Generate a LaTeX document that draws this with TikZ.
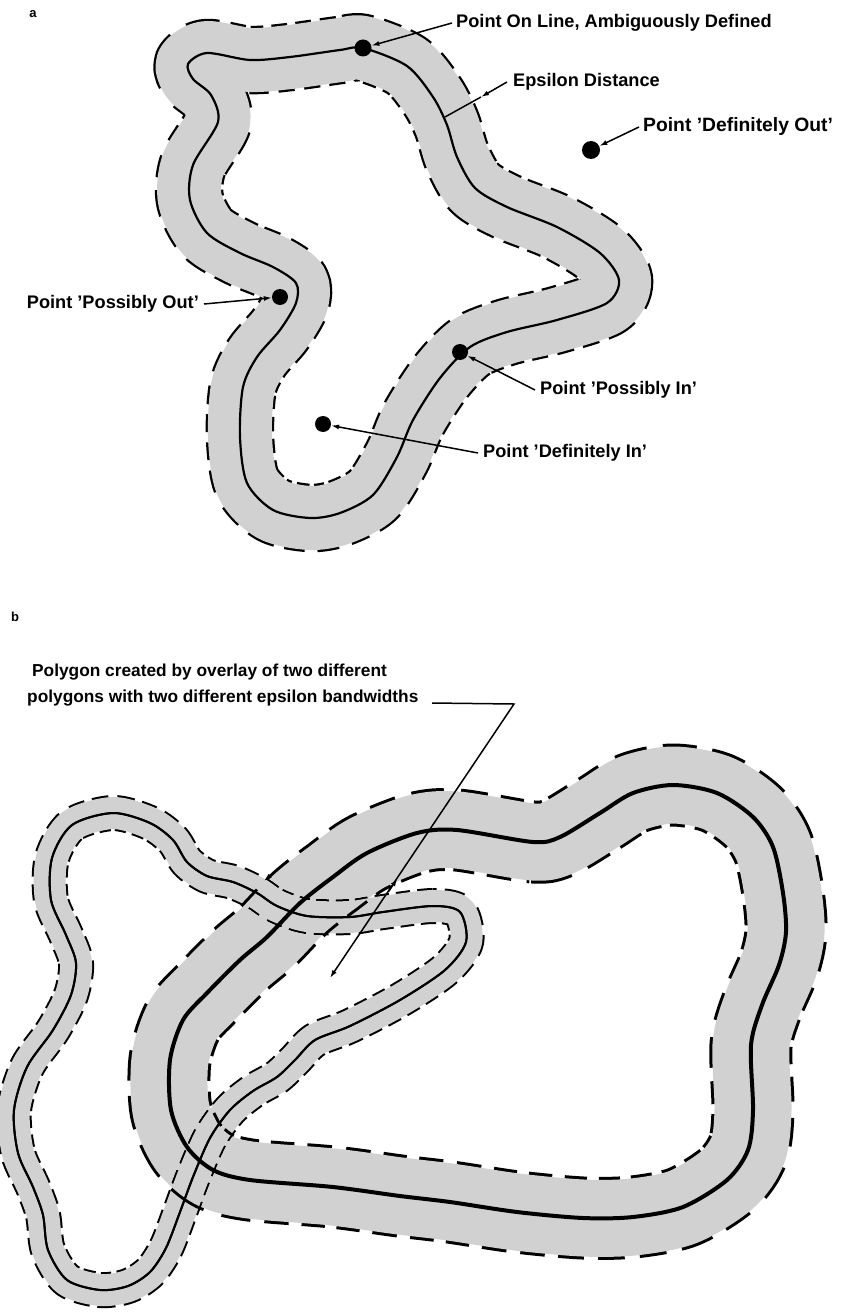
\documentclass[tikz,border=0pt]{standalone}
\usepackage{fontspec}
\setmainfont{Liberation Sans}
\usetikzlibrary{arrows.meta}
\definecolor{bandgray}{gray}{0.82}
\begin{document}
\begin{tikzpicture}[x=1pt,y=-1pt,
  lbl/.style={font=\bfseries\fontsize{18.2}{21}\selectfont, inner sep=0pt},
  lblb/.style={font=\bfseries\fontsize{17.3}{20}\selectfont, inner sep=0pt},
  panel/.style={font=\bfseries\fontsize{13}{15}\selectfont, inner sep=0pt},
  ptdot/.style={circle,fill=black,inner sep=0pt,minimum size=16pt},
  lead/.style={line width=1.5pt},
  tipped/.style={-{Latex[length=8pt,width=5pt]}},
  ctr/.style={line join=round},
]
\fill[white] (0,0) rectangle (841,1313);
\useasboundingbox (0,0) rectangle (841,1313);
\clip (0,0) rectangle (841,1313);

% ---------- paths ----------
\path[save path=\pa] plot[smooth cycle] coordinates {(207,53) (250,60) (290,57) (340,50) (363,48) (407,66) (433,97) (447,125) (457,157) (475,188) (507,207) (557,227) (600,253) (619,280) (607,303) (557,320) (507,332) (470,347) (440,378) (413,420) (397,457) (373,495) (340,513) (310,518) (273,510) (247,483) (240,437) (243,387) (257,357) (280,330) (296,303) (296,283) (273,267) (240,253) (207,233) (190,200) (193,165) (218,122) (211,95) (193,79) (188,64)};

\path[save path=\pA] plot[smooth cycle] coordinates {(460,912) (433,906) (383,912) (350,917) (307,916) (277,906) (257,893) (233,882) (207,876) (187,862) (173,840) (150,823) (113,813) (72,825) (52,858) (51,900) (66,935) (76,963) (71,995) (53,1030) (27,1067) (14,1110) (18,1153) (33,1187) (43,1215) (48,1250) (67,1280) (100,1290) (128,1286) (150,1272) (166,1248) (180,1212) (193,1177) (210,1138) (230,1110) (253,1091) (277,1077) (295,1060) (315,1040) (350,1026) (400,1000) (445,970) (466,942)};

\path[save path=\pB] plot[smooth cycle] coordinates {(457,830) (533,842) (560,837) (600,813) (633,793) (673,785) (717,793) (753,817) (773,847) (783,893) (786,932) (779,965) (762,1005) (751,1045) (753,1110) (748,1150) (727,1180) (683,1207) (633,1217) (583,1218) (517,1212) (450,1202) (400,1196) (333,1187) (250,1180) (213,1170) (187,1147) (171,1110) (170,1060) (183,1020) (207,993) (240,960) (267,937) (300,903) (333,877) (367,853) (417,833)};

% ---------- panel a ----------
\node[panel] (la) at (33,14) {a};
\draw[use path=\pa, line width=68.5pt, dash pattern=on 16pt off 9pt, line join=round];
\draw[use path=\pa, line width=64pt, bandgray, line join=round];
\draw[use path=\pa, line width=2.2pt, ctr];

\node[ptdot,minimum size=17pt] (dOn) at (363,48) {};
\node[ptdot,minimum size=18pt] (dOut) at (591,150) {};
\node[ptdot] (dPOut) at (280,297) {};
\node[ptdot] (dPIn) at (460,352) {};
\node[ptdot] (dIn) at (323,424) {};

\node[lbl,anchor=west] (tOn) at (456,23) {Point On Line, Ambiguously Defined};
\node[lbl,anchor=west] (tEps) at (513,82) {Epsilon Distance};
\node[lbl,anchor=west,font=\bfseries\fontsize{19.3}{22}\selectfont] (tOut) at (643,127) {Point ’Definitely Out’};
\node[lbl,anchor=east] (tPOut) at (199,304) {Point ’Possibly Out’};
\node[lbl,anchor=west] (tPIn) at (540,390) {Point ’Possibly In’};
\node[lbl,anchor=west] (tIn) at (483,453) {Point ’Definitely In’};

\coordinate (eEdge) at (481,97);
\coordinate (eCtr) at (445,117);
\draw[lead,tipped] ([xshift=-4pt]tOn.west) -- (dOn);
\draw[lead,tipped] ([xshift=-6pt]tEps.west) -- (eEdge);
\draw[lead] (eEdge) -- (eCtr);
\draw[lead,tipped] ([xshift=-4pt]tOut.west) -- (dOut);
\draw[lead,tipped] ([xshift=5pt]tPOut.east) -- (dPOut);
\draw[lead,tipped] ([xshift=-5pt]tPIn.west) -- (dPIn);
\draw[lead,tipped] ([xshift=-5pt]tIn.west) -- (dIn);

% ---------- panel b ----------
\node[panel] (lb) at (15,617) {b};

\begin{scope}[blend mode=darken]
  \begin{scope}[transparency group]
    \draw[use path=\pA, line width=36pt, dash pattern=on 14pt off 7pt, line join=round];
    \draw[use path=\pA, line width=32pt, bandgray, line join=round];
  \end{scope}
\end{scope}
\draw[use path=\pA, line width=2pt, ctr];

\begin{scope}[blend mode=darken]
  \begin{scope}[transparency group]
    \draw[use path=\pB, line width=83pt, dash pattern=on 24pt off 13pt, line join=round];
    \draw[use path=\pB, line width=77pt, bandgray, line join=round];
  \end{scope}
\end{scope}
\draw[use path=\pA, line width=2pt, ctr];
\draw[use path=\pB, line width=4pt, ctr];

\node[lblb,anchor=west] (tb1) at (32,672) {Polygon created by overlay of two different};
\node[lblb,anchor=west] (tb2) at (27,698) {polygons with two different epsilon bandwidths};

\coordinate (lStart) at (432,703);
\coordinate (lCorner) at (514,704);
\coordinate (lTip) at (330,978);
\draw[lead,tipped,line join=miter] (lStart) -- (lCorner) -- (lTip);

\coordinate (m1a) at (388.5,891.6);
\coordinate (m1b) at (397.5,878.4);
\draw[lead,tipped] (m1a) -- (m1b);
\coordinate (m2a) at (284,864);
\coordinate (m2b) at (264,881);
\draw[lead,tipped] (m2a) -- (m2b);
\end{tikzpicture}
\end{document}
